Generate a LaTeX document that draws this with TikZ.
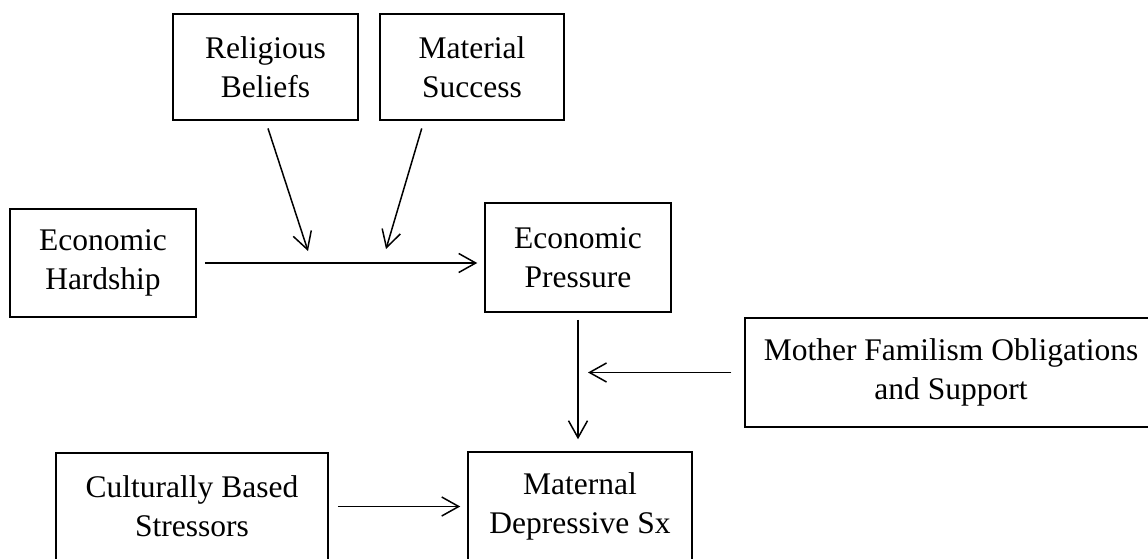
\documentclass[tikz,border=0pt]{standalone}
\usepackage{fontspec}
\setmainfont{Liberation Serif}
\usepackage{tikz}
\usetikzlibrary{arrows.meta}

\begin{document}
\begin{tikzpicture}[
    x=1pt, y=-1pt,
    >={Straight Barb[length=17pt, width=19pt]},
    box/.style={draw, line width=1.5pt, align=center, inner sep=0pt,
        font=\fontsize{31.5}{39}\selectfont},
    link/.style={->, line width=1.5pt}
]

\useasboundingbox (0,0) rectangle (1148,559);

% Moderadors

\node[box, minimum width=185pt, minimum height=106pt] (rel) at (265.5,67) {Religious\\Beliefs};
\node[box, minimum width=184pt, minimum height=106pt] (mat) at (472,67) {Material\\Success};


% Cami principal

\node[box, minimum width=186pt, minimum height=108pt] (hard) at (103,263) {Economic\\Hardship};
\node[box, minimum width=186pt, minimum height=109pt] (press) at (578,257.5) {Economic\\Pressure};
\node[box, minimum width=224pt, minimum height=108pt] (dep) at (580,506) {Maternal\\Depressive Sx};


% Altres

\node[box, minimum width=412pt, minimum height=109pt] (fam) at (951,372.5) {Mother Familism Obligations\\and Support};
\node[box, minimum width=272pt, minimum height=107pt] (cult) at (192,506.5) {Culturally Based\\Stressors};


% Fletxes

\coordinate (relend) at (308,251);
\coordinate (matend) at (386,249);
\coordinate (matstart) at ([xshift=-48pt]mat.south);
\coordinate (famend) at (press.south |- fam.west);

\draw[
    link,
    shorten <=8pt,
    shorten >=7pt
] (hard.east) -- (hard.east -| press.west);

\draw[
    link,
    shorten <=8pt
] (rel.south) -- (relend);

\draw[
    link,
    shorten <=8pt
] (matstart) -- (matend);

\draw[
    link,
    shorten <=7pt,
    shorten >=12pt
] (press.south) -- (press.south |- dep.north);

\draw[
    link,
    shorten <=13pt,
    shorten >=10pt
] (fam.west) -- (famend);

\draw[
    link,
    shorten <=9pt,
    shorten >=7pt
] (cult.east) -- (cult.east -| dep.west);

\end{tikzpicture}
\end{document}
